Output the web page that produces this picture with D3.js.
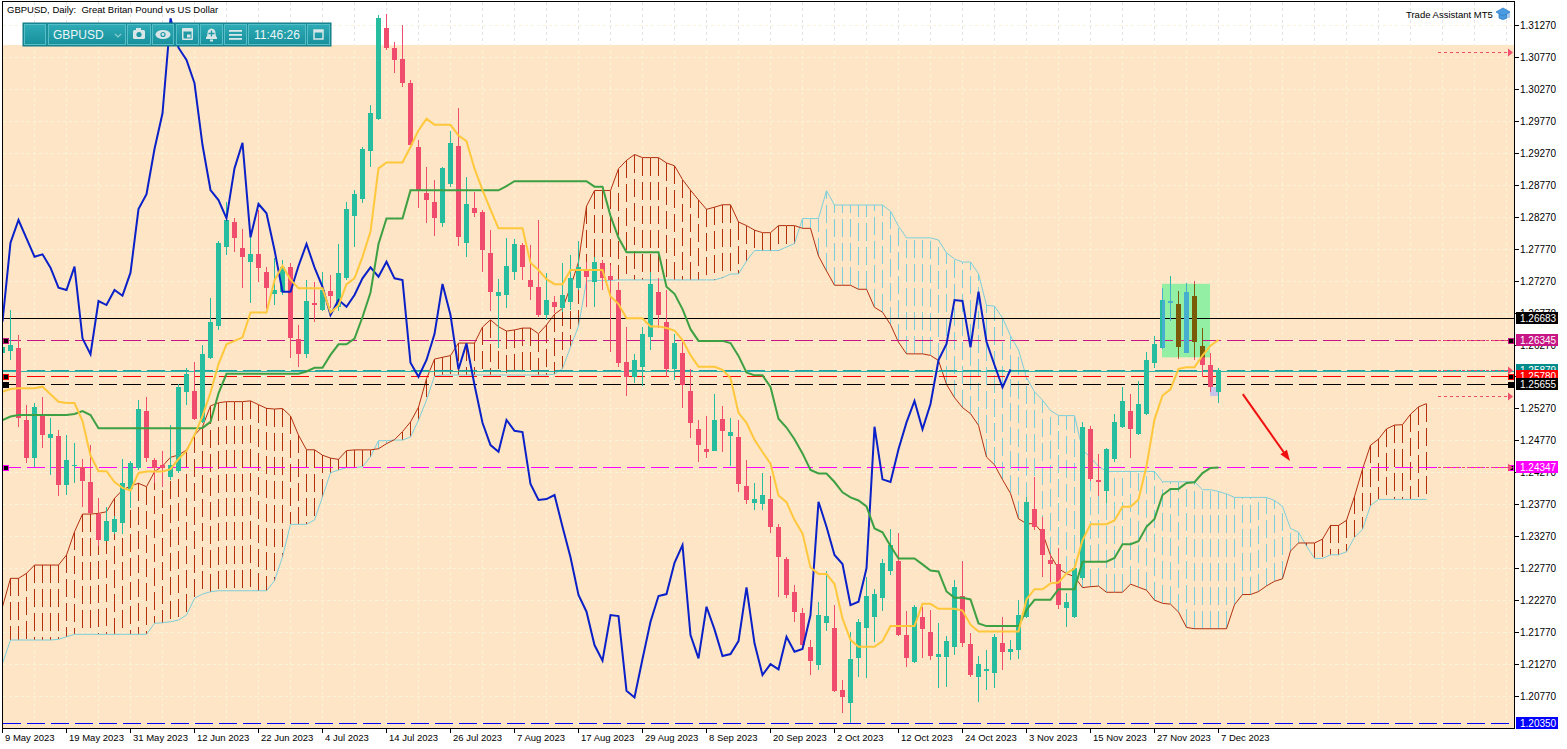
<!DOCTYPE html>
<html>
<head>
<meta charset="utf-8">
<script src="https://cdn.jsdelivr.net/npm/d3@7"></script>
<style>
html, body { margin: 0; padding: 0; background: #fff; }
svg { display: block; font-family: "Liberation Sans", Arial, sans-serif; }
</style>
</head>
<body>
<svg id="chart" width="1567" height="749"></svg>
<script>
// GBPUSD daily candles, 9 May 2023 .. 7 Dec 2023 (index 0..152)
const open = [1.26137,1.26173,1.26210,1.25089,1.24489,1.25184,1.24812,1.24838,1.24071,1.24365,
    1.24358,1.24123,1.23617,1.23200,1.23341,1.23472,1.24004,1.24333,1.25229,1.24463,
    1.24380,1.24201,1.24297,1.25531,1.25547,1.25062,1.26063,1.26564,1.27800,1.28182,
    1.27775,1.27556,1.27681,1.27400,1.27056,1.27097,1.27488,1.26351,1.26117,1.26915,
    1.26810,1.27107,1.26862,1.27306,1.28286,1.28547,1.29303,1.29794,1.31228,1.30915,
    1.30738,1.30358,1.29356,1.28636,1.28505,1.28167,1.28782,1.29377,1.27863,1.28401,
    1.28348,1.27697,1.27029,1.27045,1.27409,1.27827,1.27279,1.27174,1.26732,1.26940,
    1.26837,1.26940,1.27150,1.27436,1.27253,1.27541,1.27342,1.27123,1.26001,1.25757,
    1.25923,1.26392,1.27087,1.26627,1.25882,1.26142,1.25542,1.24948,1.24630,1.24608,
    1.25099,1.24838,1.24828,1.24056,1.23795,1.23774,1.23847,1.23419,1.22909,1.22401,
    1.22073,1.21541,1.21254,1.21917,1.21838,1.20863,1.20655,1.21369,1.21838,1.21999,
    1.22298,1.22730,1.22887,1.21724,1.21306,1.22010,1.21776,1.21385,1.21385,1.21541,
    1.22334,1.21583,1.21072,1.21166,1.21134,1.21594,1.21458,1.21489,1.21999,1.23691,
    1.23378,1.22898,1.22835,1.22141,1.22010,1.22611,1.24943,1.24150,1.23982,1.24474,
    1.24984,1.25229,1.24870,1.25182,1.25985,1.26211,1.26915,1.26904,1.26142,1.27029,
    1.26247,1.25949,1.25531];
const high = [1.26340,1.26810,1.26419,1.25323,1.25359,1.25453,1.25115,1.24932,1.24854,1.24729,
    1.24478,1.24697,1.23868,1.23727,1.23586,1.24478,1.24447,1.25401,1.25448,1.24494,
    1.24599,1.25010,1.25652,1.25902,1.26001,1.26262,1.26998,1.27890,1.28505,1.28250,
    1.28078,1.27957,1.28375,1.27488,1.27619,1.27592,1.27546,1.26575,1.27279,1.27253,
    1.27405,1.27357,1.27838,1.28505,1.28688,1.29361,1.30018,1.31426,1.31442,1.31009,
    1.31270,1.30409,1.29470,1.29048,1.28844,1.29048,1.29616,1.29966,1.28887,1.28661,
    1.28375,1.28062,1.27290,1.27932,1.27917,1.27859,1.27827,1.28218,1.27394,1.27029,
    1.27541,1.27671,1.27895,1.27561,1.27644,1.27592,1.27514,1.27248,1.26549,1.26121,
    1.26549,1.27405,1.27310,1.27123,1.26434,1.26314,1.25882,1.25089,1.25151,1.25495,
    1.25308,1.25115,1.25089,1.24463,1.24107,1.24264,1.24212,1.23461,1.22949,1.22506,
    1.22146,1.21646,1.22245,1.22730,1.22193,1.21020,1.21776,1.21970,1.22627,1.22439,
    1.22909,1.23378,1.23325,1.22104,1.22193,1.22167,1.22115,1.21917,1.21708,1.22584,
    1.22882,1.21750,1.21395,1.21489,1.21739,1.21999,1.21646,1.22271,1.23883,1.24201,
    1.23575,1.22976,1.23081,1.22381,1.22819,1.25062,1.24995,1.24556,1.24655,1.25182,
    1.25610,1.25495,1.25703,1.26157,1.26403,1.27150,1.27342,1.27112,1.27226,1.27270,
    1.26525,1.26132,1.25905];
const low = [1.26060,1.26027,1.24984,1.24416,1.24358,1.24646,1.24228,1.23899,1.23915,1.24103,
    1.23727,1.23617,1.23120,1.23190,1.23305,1.23305,1.23711,1.24306,1.24436,1.24103,
    1.24040,1.24150,1.24259,1.25323,1.25089,1.25041,1.26043,1.26497,1.27671,1.27718,
    1.27154,1.26914,1.27253,1.26826,1.26888,1.27045,1.26063,1.25923,1.26059,1.26627,
    1.26794,1.26841,1.26794,1.27279,1.27800,1.28480,1.29048,1.29783,1.30879,1.30514,
    1.30305,1.29345,1.28401,1.28167,1.27973,1.28109,1.28739,1.27811,1.27635,1.28270,
    1.27409,1.26799,1.26211,1.26837,1.27279,1.27279,1.26966,1.26705,1.26654,1.26763,
    1.26783,1.26810,1.27123,1.26853,1.26853,1.27123,1.26157,1.25913,1.25464,1.25663,
    1.25621,1.26184,1.26524,1.25766,1.25714,1.25272,1.24802,1.24436,1.24489,1.24603,
    1.24592,1.24369,1.23967,1.23774,1.23680,1.23680,1.23315,1.22323,1.22298,1.21932,
    1.21541,1.21098,1.21176,1.21792,1.20832,1.20508,1.20350,1.21072,1.21046,1.21619,
    1.22104,1.22663,1.21708,1.21218,1.21281,1.21359,1.21333,1.20890,1.20914,1.21411,
    1.21531,1.21062,1.20680,1.20864,1.20890,1.21176,1.21333,1.21352,1.21990,1.23367,
    1.22637,1.22559,1.22126,1.21854,1.21990,1.22580,1.24134,1.23899,1.23795,1.24436,
    1.24963,1.24489,1.24854,1.25160,1.25898,1.26195,1.26643,1.26039,1.26132,1.26027,
    1.25766,1.25531,1.25348];
const close = [1.26231,1.26262,1.25115,1.24489,1.25287,1.24854,1.24865,1.24071,1.24463,1.24380,
    1.24139,1.23638,1.23211,1.23508,1.23535,1.24107,1.24411,1.25256,1.24498,1.24333,
    1.24338,1.24384,1.25610,1.25808,1.25100,1.26121,1.26627,1.27863,1.28218,1.27932,
    1.27644,1.27681,1.27472,1.27159,1.27123,1.27488,1.26367,1.26117,1.26951,1.26888,
    1.27123,1.27034,1.27394,1.28390,1.28621,1.29329,1.29888,1.31375,1.30915,1.30722,
    1.30358,1.29392,1.28688,1.28531,1.28245,1.29027,1.29428,1.27948,1.28469,1.28323,
    1.27749,1.27097,1.27097,1.27499,1.27843,1.27478,1.27174,1.26732,1.26966,1.26862,
    1.27045,1.27306,1.27478,1.27331,1.27566,1.27306,1.27279,1.25985,1.25766,1.26028,
    1.26434,1.27217,1.26732,1.25882,1.26288,1.25636,1.25046,1.24697,1.24592,1.25089,
    1.24921,1.24901,1.24087,1.23837,1.23852,1.23915,1.23419,1.22940,1.22350,1.22089,
    1.21567,1.21322,1.22037,1.22021,1.20852,1.20748,1.21348,1.21932,1.22334,1.22365,
    1.22855,1.23132,1.21724,1.21359,1.22167,1.21813,1.21395,1.21426,1.21630,1.22470,
    1.21594,1.21098,1.21270,1.21187,1.21697,1.21463,1.21505,1.22037,1.23810,1.23419,
    1.22976,1.22835,1.22193,1.22245,1.22768,1.24984,1.24160,1.24118,1.24630,1.25052,
    1.25386,1.24943,1.25339,1.26027,1.26278,1.26966,1.26951,1.26226,1.27097,1.26314,
    1.25949,1.25600,1.25879];

// Ichimoku values before enough history is on the chart
const tenkanHead = [1.25532,1.25574,1.25585,1.25585,1.25585,1.25610,1.25491,1.25375];
const kijunHead = [1.25088,1.25143,1.25167,1.25167,1.25167,1.25167,1.25167,1.25167,1.25167,1.25183,
    1.25230,1.25167,1.24959,1.24959,1.24959,1.24959,1.24959,1.24959,1.24959,1.24959,
    1.24959,1.24959,1.24959,1.24959,1.24959];
const spanAHead = [1.22167,1.22611,1.22611,1.22689,1.22819,1.22819,1.22819,1.22819,1.22976,1.23340,
    1.23617,1.23617,1.23628,1.23653,1.23863,1.23993,1.24056,1.24098,1.24045,1.24279,
    1.24369,1.24505,1.24541,1.24619,1.24854,1.24984];
const spanBHead = [1.21281,1.21646,1.21646,1.21646,1.21646,1.21646,1.21646,1.21657,1.21697,1.21735,
    1.21735,1.21735,1.21735,1.21735,1.21735,1.21735,1.21735,1.21735,1.21735,1.21907,
    1.21916,1.21932,1.21959,1.22037,1.22298,1.22365,1.22401,1.22417,1.22417,1.22417,
    1.22417,1.22417,1.22417,1.22417,1.22573,1.22949,1.23456,1.23456,1.23456,1.23524,
    1.23888,1.24264,1.24306,1.24342,1.24342,1.24358,1.24514,1.24765,1.24765,1.24775,
    1.24775,1.24822,1.25088,1.25401,1.25777,1.25793,1.25793,1.25793,1.25793,1.25793,
    1.25793,1.25793,1.25793,1.25793,1.25793,1.25793,1.25793,1.25793,1.25793,1.25808,
    1.25893,1.26231,1.26559,1.27264,1.27272,1.27272,1.27272];

const tickLabels = ['9 May 2023','19 May 2023','31 May 2023','12 Jun 2023','22 Jun 2023','4 Jul 2023',
    '14 Jul 2023','26 Jul 2023','7 Aug 2023','17 Aug 2023','29 Aug 2023','8 Sep 2023','20 Sep 2023',
    '2 Oct 2023','12 Oct 2023','24 Oct 2023','3 Nov 2023','15 Nov 2023','27 Nov 2023','7 Dec 2023'];
const priceTicks = [1.20770,1.21270,1.21770,1.22270,1.22770,1.23270,1.23770,1.24270,1.24770,1.25270,
    1.25770,1.26270,1.26770,1.27270,1.27770,1.28270,1.28770,1.29270,1.29770,1.30270,1.30770,1.31270];

// horizontal price levels on the chart and their labels
const levelPrices = [1.26683, 1.26345, 1.25879, 1.25780, 1.25655, 1.24347, 1.20350];
const bidPrice = 1.25855;
const assistPrices = [1.30847, 1.26345, 1.25879, 1.25464, 1.24347];
const assistArrow = [true, false, true, true, true];
const backdropTop = 1.30957;
const boxGreen = { from: 145, to: 151, hi: 1.27220, lo: 1.26070 };
const boxLilac = { from: 151, to: 152, hi: 1.25605, lo: 1.25464 };
const arrowFrom = { bar: 155.1, price: 1.25495 };
const arrowTo = { bar: 161, price: 1.24447 };

const levelColor = ['#000000', '#C71585', '#1E9E9E', '#FF0000', '#000000', '#FF00FF', '#0000FF'];
const labelFill = ['#000000', '#C71585', '#008B8B', '#FF0000', '#000000', '#FF00FF', '#0000FF'];
const bullColor = '#26BE9E', bearColor = '#F04C6E';

const svg = d3.select('#chart'),
    plot = { left: 3, right: 1514, top: 2, bottom: 728 },
    x = d3.scaleLinear().domain([0, 1]).range([2, 10]),
    y = d3.scaleLinear().domain([1.20770, 1.31270]).range([696, 25]),
    nBars = open.length,
    shift = 26;

const px = v => Math.round(v) + 0.5;

// --- ichimoku lines
function mid (from, to) {
    return (d3.max(high.slice(from, to + 1)) + d3.min(low.slice(from, to + 1))) / 2;
}
const tenkan = d3.range(nBars).map(i => i < tenkanHead.length ? tenkanHead[i] : mid(i - 8, i));
const kijun = d3.range(nBars).map(i => i < kijunHead.length ? kijunHead[i] : mid(i - 25, i));
const spanA = d3.range(nBars + shift).map(j => j < spanAHead.length ? spanAHead[j] : (tenkan[j - shift] + kijun[j - shift]) / 2);
const spanB = d3.range(nBars + shift).map(j => j < spanBHead.length ? spanBHead[j] : mid(j - shift - 51, j - shift));
const chikou = d3.range(nBars - shift).map(i => close[i + shift]);

svg.append('defs').append('clipPath').attr('id', 'plotClip')
    .append('rect')
    .attr('x', plot.left).attr('y', plot.top)
    .attr('width', plot.right - plot.left).attr('height', plot.bottom - plot.top);

const chart = svg.append('g').attr('clip-path', 'url(#plotClip)');

// backdrop rectangle object
chart.append('rect')
    .attr('x', plot.left).attr('y', Math.round(y(backdropTop)))
    .attr('width', plot.right - plot.left)
    .attr('height', plot.bottom - Math.round(y(backdropTop)))
    .attr('fill', '#FDE5C5');

// grid
const grid = chart.append('g').attr('stroke', '#F8F4DA').attr('stroke-dasharray', '3,3').attr('shape-rendering', 'crispEdges');
grid.selectAll('line.h').data(priceTicks).enter().append('line')
    .attr('x1', plot.left).attr('x2', plot.right)
    .attr('y1', d => px(y(d))).attr('y2', d => px(y(d)));
grid.selectAll('line.v').data(d3.range(0, 190, 4)).enter().append('line')
    .attr('y1', plot.top).attr('y2', plot.bottom)
    .attr('x1', d => px(x(d))).attr('x2', d => px(x(d)));
// grid over the white strip at the top reads grey
chart.append('g').attr('stroke', '#E4E4E4').attr('stroke-dasharray', '3,3').attr('shape-rendering', 'crispEdges')
    .selectAll('line').data(d3.range(0, 190, 4)).enter().append('line')
    .attr('y1', plot.top).attr('y2', Math.round(y(backdropTop)))
    .attr('x1', d => px(x(d))).attr('x2', d => px(x(d)));

// kumo hatch
const redKumo = '#B3300F', blueKumo = '#7ECFDA';
chart.append('g').attr('stroke-dasharray', '18,6').attr('shape-rendering', 'crispEdges')
    .selectAll('line').data(d3.range(spanA.length)).enter().append('line')
    .attr('x1', j => px(x(j))).attr('x2', j => px(x(j)))
    .attr('y1', j => y(spanA[j])).attr('y2', j => y(spanB[j]))
    .attr('stroke', j => spanA[j] >= spanB[j] ? redKumo : blueKumo);

const line = d3.line().x((d, i) => px(x(i))).y(d => y(d));
chart.append('path').datum(spanB).attr('d', line).attr('fill', 'none').attr('stroke', blueKumo).attr('stroke-width', 1);
chart.append('path').datum(spanA).attr('d', line).attr('fill', 'none').attr('stroke', redKumo).attr('stroke-width', 1);

// rectangle objects behind candles
function box (b, fill) {
    chart.append('rect')
        .attr('x', x(b.from)).attr('y', y(b.hi))
        .attr('width', x(b.to) - x(b.from)).attr('height', y(b.lo) - y(b.hi))
        .attr('fill', fill);
}
box(boxGreen, '#92EFA4');
box(boxLilac, '#C9C3EA');

// level lines
const levels = chart.append('g').attr('shape-rendering', 'crispEdges');
levels.selectAll('line').data(levelPrices).enter().append('line')
    .attr('x1', plot.left).attr('x2', (d, i) => i === 0 ? plot.right : plot.right - 4)
    .attr('y1', d => px(y(d))).attr('y2', d => px(y(d)))
    .attr('stroke', (d, i) => levelColor[i])
    .attr('stroke-dasharray', (d, i) => i === 0 ? null : '18,6');
levels.append('line')
    .attr('x1', plot.left).attr('x2', plot.right)
    .attr('y1', px(y(bidPrice))).attr('y2', px(y(bidPrice)))
    .attr('stroke', '#2FB5A8');

// candles
function drawCandles (g, bull, bear) {
    const c = g.selectAll('g').data(d3.range(nBars)).enter().append('g')
        .attr('fill', i => close[i] >= open[i] ? bull : bear);
    c.append('rect')
        .attr('x', i => Math.round(x(i)))
        .attr('y', i => Math.round(y(high[i])))
        .attr('width', 1)
        .attr('height', i => Math.max(1, Math.round(y(low[i])) - Math.round(y(high[i]))));
    c.append('rect')
        .attr('x', i => Math.round(x(i)) - 2)
        .attr('y', i => Math.round(y(Math.max(open[i], close[i]))))
        .attr('width', 5)
        .attr('height', i => Math.max(1, Math.round(y(Math.min(open[i], close[i]))) - Math.round(y(Math.max(open[i], close[i])))));
}
drawCandles(chart.append('g').attr('shape-rendering', 'crispEdges'), bullColor, bearColor);

svg.select('defs').append('clipPath').attr('id', 'boxClip')
    .append('rect')
    .attr('x', x(boxGreen.from)).attr('y', y(boxGreen.hi))
    .attr('width', x(boxGreen.to) - x(boxGreen.from)).attr('height', y(boxGreen.lo) - y(boxGreen.hi));
drawCandles(chart.append('g').attr('clip-path', 'url(#boxClip)').attr('shape-rendering', 'crispEdges'), '#46AFCF', '#7B5A08');

// ichimoku tenkan / kijun / chikou
chart.append('path').datum(chikou).attr('d', line).attr('fill', 'none').attr('stroke', '#0A20C8').attr('stroke-width', 2);
chart.append('path').datum(kijun).attr('d', line).attr('fill', 'none').attr('stroke', '#3DA043').attr('stroke-width', 2);
chart.append('path').datum(tenkan).attr('d', line).attr('fill', 'none').attr('stroke', '#FFC83C').attr('stroke-width', 2);

// level end markers
const markIdx = [1, 3, 4, 5];
markIdx.forEach(i => {
    [plot.left, plot.right - 6].forEach(mx => {
        chart.append('rect')
            .attr('x', mx + 0.5).attr('y', Math.round(y(levelPrices[i])) - 2 + 0.5)
            .attr('width', 5).attr('height', 5)
            .attr('fill', '#000').attr('stroke', levelColor[i]).attr('stroke-width', 1);
    });
});

// trade assistant dotted lines
const assist = chart.append('g');
assistPrices.forEach((p, i) => {
    const yy = px(y(p));
    assist.append('line')
        .attr('x1', plot.right - 76).attr('x2', plot.right - 6)
        .attr('y1', yy).attr('y2', yy)
        .attr('stroke', '#F0506E').attr('stroke-dasharray', '3,3');
    if (assistArrow[i]) {
        assist.append('path')
            .attr('d', `M${plot.right - 6},${yy - 4}L${plot.right - 1},${yy}L${plot.right - 6},${yy + 4}Z`)
            .attr('fill', '#F0506E');
    }
});

// red arrow
const ax1 = x(arrowFrom.bar), ay1 = y(arrowFrom.price), ax2 = x(arrowTo.bar), ay2 = y(arrowTo.price),
    ang = Math.atan2(ay2 - ay1, ax2 - ax1);
chart.append('line')
    .attr('x1', ax1).attr('y1', ay1)
    .attr('x2', ax2 - 8 * Math.cos(ang)).attr('y2', ay2 - 8 * Math.sin(ang))
    .attr('stroke', '#F01010').attr('stroke-width', 2);
chart.append('path')
    .attr('d', d3.line()([
        [ax2, ay2],
        [ax2 - 11 * Math.cos(ang) + 4 * Math.sin(ang), ay2 - 11 * Math.sin(ang) - 4 * Math.cos(ang)],
        [ax2 - 11 * Math.cos(ang) - 4 * Math.sin(ang), ay2 - 11 * Math.sin(ang) + 4 * Math.cos(ang)]
    ]) + 'Z')
    .attr('fill', '#F01010');

// frame
svg.append('rect')
    .attr('x', plot.left - 0.5).attr('y', plot.top - 0.5)
    .attr('width', plot.right - plot.left + 1).attr('height', plot.bottom - plot.top + 1)
    .attr('fill', 'none').attr('stroke', '#000').attr('shape-rendering', 'crispEdges');

// right price axis
const yAxis = svg.append('g');
yAxis.selectAll('line').data(priceTicks).enter().append('line')
    .attr('x1', plot.right).attr('x2', plot.right + 5)
    .attr('y1', d => px(y(d))).attr('y2', d => px(y(d)))
    .attr('stroke', '#000').attr('shape-rendering', 'crispEdges');
yAxis.selectAll('text').data(priceTicks).enter().append('text')
    .attr('x', plot.right + 6).attr('y', d => Math.round(y(d)) + 4)
    .attr('font-size', 10).attr('fill', '#000')
    .text(d => d.toFixed(5));

const tags = svg.append('g');
levelPrices.forEach((p, i) => {
    const yy = Math.round(y(p));
    tags.append('rect')
        .attr('x', plot.right + 2).attr('y', yy - 6)
        .attr('width', 42).attr('height', 12)
        .attr('fill', labelFill[i]);
    tags.append('text')
        .attr('x', plot.right + 6).attr('y', yy + 4)
        .attr('font-size', 10).attr('fill', '#fff')
        .text(p.toFixed(5));
});

// bottom time axis
const xAxis = svg.append('g');
xAxis.selectAll('line').data(tickLabels).enter().append('line')
    .attr('x1', (d, i) => px(x(i * 8))).attr('x2', (d, i) => px(x(i * 8)))
    .attr('y1', plot.bottom).attr('y2', plot.bottom + 5)
    .attr('stroke', '#000').attr('shape-rendering', 'crispEdges');
xAxis.selectAll('text').data(tickLabels).enter().append('text')
    .attr('x', (d, i) => Math.round(x(i * 8)) + 3).attr('y', plot.bottom + 13)
    .attr('font-size', 9.5).attr('fill', '#000')
    .text(d => d);

// title + assistant caption
svg.append('text')
    .attr('x', 7).attr('y', 13).attr('font-size', 9.5).attr('fill', '#000')
    .style('white-space', 'pre')
    .text('GBPUSD, Daily:  Great Britan Pound vs US Dollar');
svg.append('text')
    .attr('x', 1406).attr('y', 18).attr('font-size', 9.5).attr('fill', '#000')
    .text('Trade Assistant MT5');
const cap = svg.append('g').attr('transform', 'translate(1503,14)').attr('fill', '#4A9BE0').attr('stroke', '#2F7FC8').attr('stroke-width', 0.8);
cap.append('path').attr('d', 'M-7,-2L0,-6L7,-2L0,2Z');
cap.append('path').attr('d', 'M-4,0L-4,4Q0,7 4,4L4,0L0,2Z');
cap.append('line').attr('x1', 6).attr('y1', -2).attr('x2', 6).attr('y2', 4);

// one-click toolbar
const tb = svg.append('g').attr('transform', 'translate(23,23)');
const grad = svg.select('defs').append('linearGradient').attr('id', 'tbGrad')
    .attr('x1', 0).attr('y1', 0).attr('x2', 0).attr('y2', 1);
grad.append('stop').attr('offset', 0).attr('stop-color', '#2EABB6');
grad.append('stop').attr('offset', 1).attr('stop-color', '#17909C');
tb.append('rect').attr('x', 0).attr('y', 0).attr('width', 308).attr('height', 23)
    .attr('fill', '#1B8F9B').attr('stroke', '#137984');
const segs = [[1, 23], [25, 103], [104, 128], [129, 151], [153, 176], [177, 200], [201, 224], [225, 283], [284, 307]];
tb.selectAll('rect.seg').data(segs).enter().append('rect')
    .attr('x', d => d[0] + 0.5).attr('y', 1.5)
    .attr('width', d => d[1] - d[0] - 1).attr('height', 20)
    .attr('fill', 'url(#tbGrad)').attr('stroke', '#56BEC6');
tb.append('text').attr('x', 30).attr('y', 16).attr('font-size', 12).attr('fill', '#EAF6F7').text('GBPUSD');
tb.append('path').attr('d', 'M92,11L95,14L98,11').attr('fill', 'none').attr('stroke', '#8CCBD0').attr('stroke-width', 1.2);
tb.append('text').attr('x', 254).attr('y', 16).attr('font-size', 12).attr('fill', '#EAF6F7')
    .attr('text-anchor', 'middle').text('11:46:26');
const ic = tb.append('g').attr('fill', '#D9E6E8').attr('stroke', 'none');
// camera
ic.append('rect').attr('x', 110).attr('y', 7).attr('width', 12).attr('height', 9).attr('rx', 1.5);
ic.append('rect').attr('x', 113).attr('y', 5).attr('width', 5).attr('height', 3);
ic.append('circle').attr('cx', 116).attr('cy', 11.5).attr('r', 2.6).attr('fill', '#1E98A3');
// eye
ic.append('ellipse').attr('cx', 140).attr('cy', 11.5).attr('rx', 7.5).attr('ry', 4.5);
ic.append('circle').attr('cx', 140).attr('cy', 11.5).attr('r', 2.6).attr('fill', '#1E98A3');
ic.append('circle').attr('cx', 140).attr('cy', 11.5).attr('r', 1.4);
// calendar
ic.append('rect').attr('x', 159).attr('y', 5).attr('width', 11).attr('height', 12).attr('rx', 1);
ic.append('rect').attr('x', 160.5).attr('y', 8.5).attr('width', 8).attr('height', 7).attr('fill', '#1E98A3');
ic.append('rect').attr('x', 164).attr('y', 11.5).attr('width', 3.5).attr('height', 3);
// bell
ic.append('path').attr('d', 'M183,16L183,14.5Q184.5,13.5 184.5,10Q184.5,6 188.5,5.5Q192.5,6 192.5,10Q192.5,13.5 194,14.5L194,16Z');
ic.append('rect').attr('x', 187).attr('y', 16.5).attr('width', 3).attr('height', 2);
ic.append('path').attr('d', 'M188.5,7.5L188.5,13.5M185.5,10.5L191.5,10.5').attr('stroke', '#1E98A3').attr('stroke-width', 1.3);
// menu
[7, 11, 15].forEach(yy => ic.append('rect').attr('x', 206).attr('y', yy).attr('width', 13).attr('height', 1.8));
// window
ic.append('rect').attr('x', 291).attr('y', 7).attr('width', 9).attr('height', 9).attr('fill', 'none')
    .attr('stroke', '#D9E6E8').attr('stroke-width', 1.5);
ic.append('rect').attr('x', 291).attr('y', 7).attr('width', 9).attr('height', 2.5);
</script>
</body>
</html>
